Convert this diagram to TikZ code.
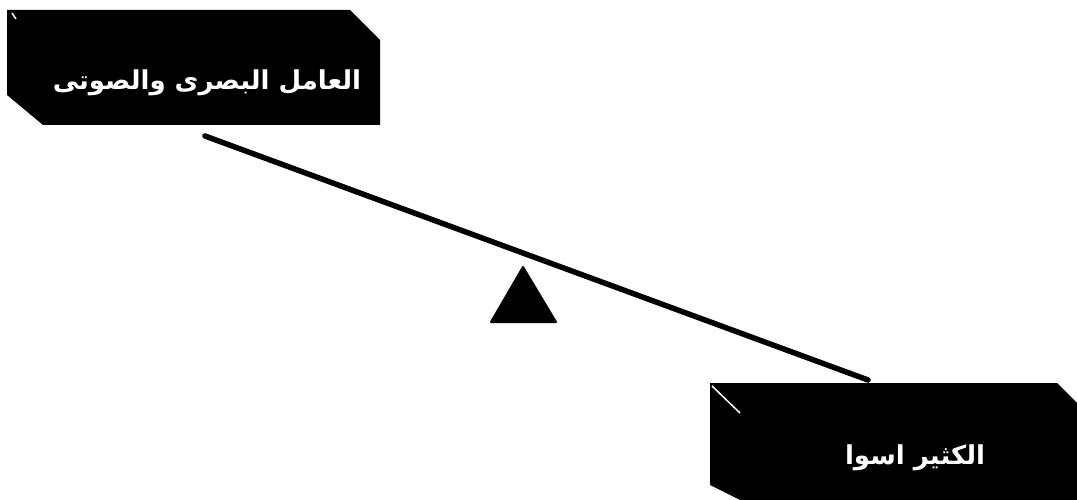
\documentclass[tikz,border=0pt]{standalone}
\usepackage{fontspec}
\newfontfamily\arabicfont[Script=Arabic]{DejaVu Sans}
\TeXXeTstate=1
\tikzset{
  boxfill/.style={fill=black,draw=none},
  boxtext/.style={text=white,font=\arabicfont\bfseries\fontsize{26}{30}\selectfont,inner sep=0pt},
  bevel/.style={draw=white,line width=1.5pt},
  beam/.style={draw=black,line width=5.5pt,line cap=round},
  fulcrum/.style={fill=black,draw=black,line width=2pt,line join=round}
}
\begin{document}
\begin{tikzpicture}[x=1pt,y=-1pt]
\useasboundingbox (0,0) rectangle (1077,500);
% top-left box
\fill[boxfill] (7,10) -- (350,10) -- (380,40) -- (380,125) -- (43,125) -- (7,95) -- cycle;
\draw[bevel] (12,13) -- (16,19);
\node[boxtext] (t1) at (207,83) {\beginR العامل البصرى والصوتى\endR};
% bottom-right box
\fill[boxfill] (710,383) -- (1057,383) -- (1077,403) -- (1077,500) -- (740,500) -- (710,485) -- cycle;
\draw[bevel] (712,386) -- (740,413);
\node[boxtext] (t2) at (915,458) {\beginR الكثير اسوا\endR};
% seesaw beam
\coordinate (b1) at (205,136);
\coordinate (b2) at (868,380);
\draw[beam] (b1) -- (b2);
% fulcrum
\coordinate (apex) at (523,267);
\coordinate (bl) at (491,322);
\coordinate (br) at (556,322);
\filldraw[fulcrum] (apex) -- (br) -- (bl) -- cycle;
\end{tikzpicture}
\end{document}
